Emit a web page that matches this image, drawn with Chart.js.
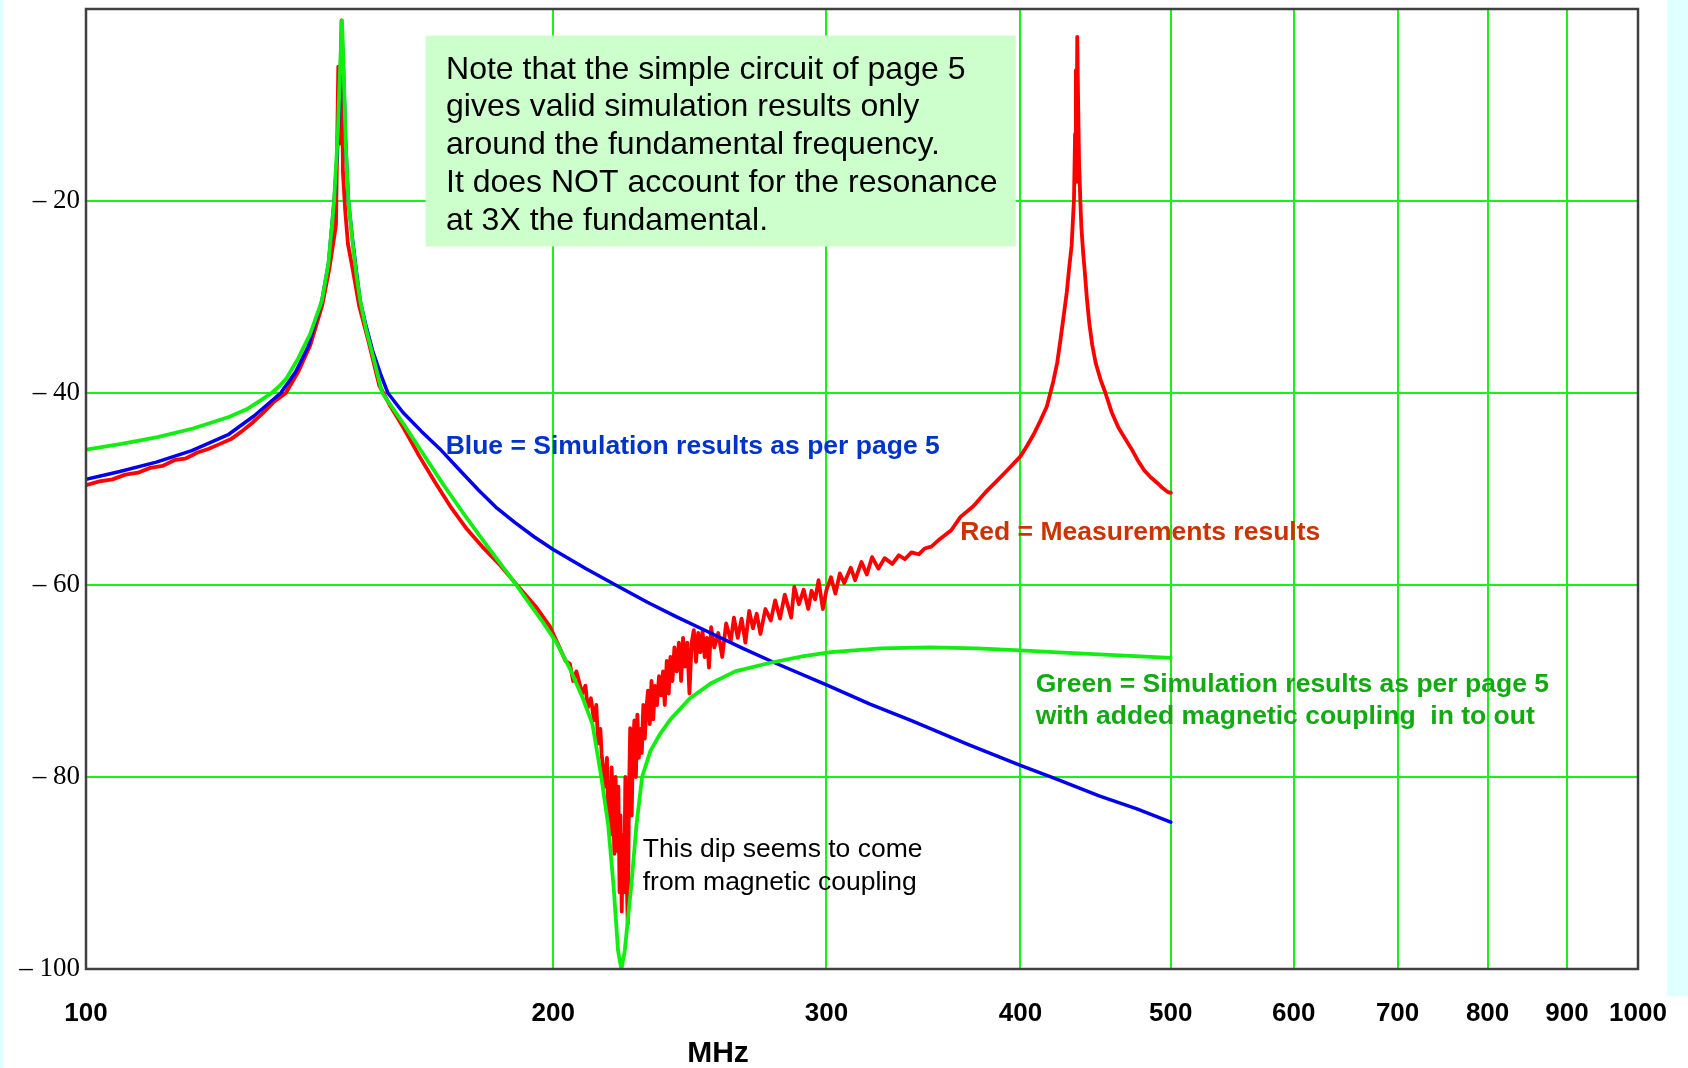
<!DOCTYPE html>
<html>
<head>
<meta charset="utf-8">
<title>Filter response 100 - 1000 MHz</title>
<script src="https://cdn.jsdelivr.net/npm/chart.js@4.4.1/dist/chart.umd.min.js"></script>
<style>
  html, body { margin: 0; padding: 0; background: #ffffff; }
  #responseChart { display: block; }
</style>
</head>
<body>
<canvas id="responseChart" width="1688" height="1068"></canvas>
<script>
// Axis ticks
const xTicks = [100, 200, 300, 400, 500, 600, 700, 800, 900, 1000];
const yTicks = [-100, -80, -60, -40, -20, 0];

// Blue: simulation of the simple circuit (MHz / dB)
const freqBlue = [100, 105, 111, 117, 123.6, 128.3, 133.5, 136.5, 139, 141.9, 143.3, 144.5, 145.3, 145.9, 146.2,
  146.6, 147.0, 147.6, 148.5, 149.4, 150.2, 151.5, 153, 154.8, 156.5, 160, 164.5, 169, 174, 179, 184, 189,
  194.5, 200, 210, 220, 230, 240, 252.6, 265, 277.8, 300, 320, 340, 370, 400, 421.7, 450, 475, 500];
const dbBlue = [-49.0, -48.2, -47.2, -46.0, -44.3, -42.4, -40.0, -37.8, -35.2, -30.4, -26.5, -20.0, -14.0, -7.0, -2.5,
  -7.5, -14.0, -20.0, -24.0, -27.5, -30.4, -33.0, -35.6, -38.0, -40.0, -42.0, -44.0, -45.8, -48.0, -50.1, -52.0, -53.5,
  -55.0, -56.3, -58.3, -60.1, -61.8, -63.3, -65.0, -66.6, -68.1, -70.4, -72.4, -74.1, -76.6, -78.8, -80.2, -82.0, -83.3, -84.7];

// Green: simulation with magnetic coupling in to out
const freqGreen = [100, 105.4, 111.2, 117.2, 123.6, 126.9, 129.5, 131.7, 133.2, 134.6, 137, 139.5, 141.9, 143.3, 144.5,
  145.3, 145.8, 146.2, 146.6, 147.0, 147.6, 148.5, 149.4, 150.2, 151.5, 153, 155.2, 160, 165, 170, 175, 179, 184,
  189, 193, 197, 201, 205, 209, 212, 214.8, 217, 218.7, 220.2, 221.3, 222.4, 224.6, 226.3, 228.2, 231, 234.4, 238,
  245, 253, 262, 276, 290, 302, 325, 350, 375, 400, 420, 460, 500];
const dbGreen = [-45.9, -45.3, -44.6, -43.7, -42.5, -41.7, -40.8, -40.0, -39.3, -38.5, -36.4, -33.8, -30.4, -26.5, -20.0,
  -13.0, -6.0, -1.2, -7.0, -14.0, -20.0, -24.3, -27.8, -30.4, -33.3, -36.0, -40.0, -43.1, -46.4, -49.6, -52.5, -54.7, -57.3,
  -59.8, -61.9, -63.9, -66.0, -68.7, -71.8, -74.5, -80.0, -85.0, -91.2, -98.1, -100, -98.1, -91.2, -85.0, -80.0, -77.3, -75.5, -74.0,
  -71.8, -70.2, -69.0, -68.1, -67.4, -67.0, -66.6, -66.5, -66.6, -66.8, -67.0, -67.3, -67.6];

// Red: measured response
const freqRed = [100, 102, 104, 106, 108, 110, 112, 114, 116, 118, 120, 122, 124, 126, 128, 130, 132, 134.5, 137, 139.5,
  142, 143.5, 144.9, 145.4, 145.7, 146.1, 146.4, 146.9, 147.5, 148.5, 150, 152, 154.5, 157, 160, 164, 168, 172, 176,
  180, 185, 190, 195, 199, 203.7, 205, 206, 207, 208.8, 209.8, 210.5, 211.5, 212.5, 213.2, 213.8, 214.5, 214.9, 215.5,
  216.1, 216.6, 217, 217.4, 217.7, 218.1, 218.5, 219, 219.4, 219.9, 220.3, 220.7, 221, 221.4, 221.8, 222.2, 222.6, 223,
  223.4, 223.8, 224.2, 224.7, 225.1, 225.6, 226.1, 226.6, 227.1, 227.6, 228.1, 228.6, 229.1, 229.6, 230.2, 230.8, 231.4,
  232, 232.6, 233.3, 234, 234.7, 235.4, 236, 236.7, 237.4, 238, 238.7, 239.4, 240.2, 241, 241.8, 242.5, 243.2, 244,
  244.8, 245.6, 246.4, 247.2, 248, 248.8, 249.6, 250.4, 251.2, 252, 252.8, 254, 255.5, 257, 258.5, 260.3,
  261.5, 263, 264.5, 266, 267.5, 269, 270.5, 272, 274, 276.2, 278, 280, 282, 284.7, 286, 288, 290, 292, 293.4, 295,
  296.5, 298.4, 300, 302, 304, 306, 308, 311, 313, 316, 318.5, 321, 324, 327, 330.8, 334, 337, 340.3, 344, 347, 350.5,
  355, 361, 366, 373, 380, 386, 392, 400, 404, 408, 412, 416, 420, 422.5, 424.3, 426.5, 428.5, 430, 431.6, 433.1,
  433.8, 434.3, 434.7, 435.2, 435.8, 436.4, 437.2, 437.9, 439, 440, 441.5, 443.1, 445, 447.3, 450.5, 453.8, 458,
  462.6, 467, 471.6, 476, 480.9, 485.5, 490.3, 494, 497.6, 500];
const dbRed = [-49.6, -49.2, -49.0, -48.5, -48.3, -47.8, -47.6, -47.0, -46.8, -46.2, -45.8, -45.3, -44.8, -44.0, -43.1, -42.1, -41.0, -40.0, -37.8, -35.0,
  -30.8, -27.0, -22.5, -6.0, -14.0, -1.2, -17.0, -21.0, -24.5, -27.0, -31.0, -34.5, -39.2, -41.3, -43.5, -46.6, -49.4, -52.0, -54.2,
  -56.0, -58.0, -60.2, -62.3, -64.3, -67.9, -68.2, -70.0, -69.0, -71.3, -70.5, -72.8, -71.8, -74.1, -72.5, -76.5, -75.0, -77.6, -79.5,
  -81.0, -78.0, -84.5, -80.5, -86.0, -79.0, -82.0, -88.0, -80.0, -87.7, -81.0, -92.0, -84.0, -94.0, -86.0, -92.0, -80.0, -90.0,
  -95.3, -82.0, -74.9, -84.0, -77.0, -74.1, -80.0, -73.5, -78.0, -75.0, -77.5, -72.5, -76.0, -73.1, -71.0, -74.5, -70.0,
  -74.0, -70.5, -72.5, -69.5, -71.5, -69.0, -72.5, -67.9, -71.3, -67.5, -70.0, -66.5, -69.0, -66.0, -70.0, -65.5, -68.5, -66.0,
  -71.3, -66.0, -64.7, -68.0, -65.0, -67.0, -64.8, -67.5, -65.5, -68.6, -64.4, -66.5, -65.0, -67.5, -64.0, -65.8,
  -63.4, -65.5, -63.5, -66.0, -62.7, -64.5, -63.0, -65.1, -62.5, -63.7, -61.6, -63.5, -61.0, -63.4, -60.2, -62.0, -60.5, -62.5, -60.6, -61.5,
  -59.5, -62.5, -60.5, -59.2, -60.9, -58.8, -59.8, -58.2, -59.5, -57.6, -58.9, -57.1, -58.3, -57.2, -57.8, -56.9, -57.3, -56.6, -56.8, -56.2, -56.0,
  -55.2, -54.3, -52.9, -51.8, -50.3, -49.2, -48.1, -46.6, -45.5, -44.3, -42.9, -41.4, -38.8, -36.8, -34.7, -32.0, -29.5, -27.0, -24.6, -19.8,
  -13.0, -6.4, -18.0, -2.9, -10.0, -16.1, -20.0, -22.8, -25.3, -27.2, -30.2, -32.8, -35.0, -36.9, -38.6, -40.0, -42.0,
  -43.6, -44.7, -45.8, -47.0, -48.1, -48.8, -49.4, -49.9, -50.3, -50.4];

const sans = '"Liberation Sans", Arial, sans-serif';

function toPoints(freqs, dbs) {
  return freqs.map((f, i) => ({ x: f, y: dbs[i] }));
}

// White page with the light cyan edges
const pagePlugin = {
  id: 'page',
  beforeDraw(chart) {
    const c = chart.ctx;
    c.save();
    c.fillStyle = '#ffffff';
    c.fillRect(0, 0, chart.width, chart.height);
    c.fillStyle = '#e0ffff';
    c.fillRect(0, 0, 3.5, chart.height);
    c.fillRect(1667, 0, chart.width - 1667, 996);
    c.restore();
  }
};

// Frame, note box and text annotations
const notesPlugin = {
  id: 'notes',
  afterDatasetsDraw(chart) {
    const c = chart.ctx;
    const xs = chart.scales.x;
    const ys = chart.scales.y;
    const area = chart.chartArea;
    const px = f => xs.getPixelForValue(f);
    const py = db => ys.getPixelForValue(db);

    c.save();

    // note box
    c.fillStyle = '#ccffcc';
    c.fillRect(px(165.5), py(-2.76), px(397.2) - px(165.5), py(-24.74) - py(-2.76));
    c.fillStyle = '#000000';
    c.font = '32px ' + sans;
    c.textBaseline = 'middle';
    c.textAlign = 'left';
    const noteLines = [
      'Note that the simple circuit of page 5',
      'gives valid simulation results only',
      'around the fundamental frequency.',
      'It does NOT account for the resonance',
      'at 3X the fundamental.'
    ];
    noteLines.forEach((t, i) => c.fillText(t, px(170.6), py(-6.33) + i * 37.9));

    // curve labels
    c.font = 'bold 26.5px ' + sans;
    c.fillStyle = '#0033cc';
    c.fillText('Blue = Simulation results as per page 5', px(170.5), py(-45.6));
    c.fillStyle = '#cc3300';
    c.fillText('Red = Measurements results', px(365.8), py(-54.5));
    c.fillStyle = '#11aa11';
    c.fillText('Green = Simulation results as per page 5', px(409.2), py(-70.4));
    c.fillText('with added magnetic coupling  in to out', px(409.2), py(-70.4) + 32.3);

    c.font = '26.5px ' + sans;
    c.fillStyle = '#000000';
    c.fillText('This dip seems to come', px(228.4), py(-87.6));
    c.fillText('from magnetic coupling', px(228.4), py(-87.6) + 32.3);

    // axis title
    c.font = 'bold 30px ' + sans;
    c.textAlign = 'center';
    c.fillText('MHz', px(255.4), area.bottom + 85);

    // plot frame
    c.strokeStyle = '#404040';
    c.lineWidth = 2.5;
    c.strokeRect(area.left, area.top, area.right - area.left, area.bottom - area.top);
    c.restore();
  }
};

const gridGreen = 'rgb(25, 242, 25)';

new Chart(document.getElementById('responseChart').getContext('2d'), {
  type: 'line',
  data: {
    datasets: [
      { label: 'Green', data: toPoints(freqGreen, dbGreen), borderColor: '#12ee12', borderWidth: 3.8 },
      { label: 'Blue', data: toPoints(freqBlue, dbBlue), borderColor: '#0000ee', borderWidth: 3.5 },
      { label: 'Red', data: toPoints(freqRed, dbRed), borderColor: '#ff0000', borderWidth: 3.8 }
    ]
  },
  options: {
    responsive: false,
    animation: false,
    devicePixelRatio: 1,
    elements: {
      point: { radius: 0 },
      line: { tension: 0, borderJoinStyle: 'round', borderCapStyle: 'round', fill: false }
    },
    layout: { padding: { top: 9, right: 50, left: 0, bottom: 0 } },
    plugins: {
      legend: { display: false },
      tooltip: { enabled: false }
    },
    scales: {
      x: {
        type: 'logarithmic',
        min: 100,
        max: 1000,
        afterBuildTicks: scale => { scale.ticks = xTicks.map(v => ({ value: v })); },
        afterFit: scale => {
          scale.height = 99;
          scale.paddingLeft = 0;
          scale.paddingRight = 0;
        },
        border: { display: false },
        grid: { color: gridGreen, lineWidth: 2, drawTicks: false },
        ticks: {
          autoSkip: false,
          maxRotation: 0,
          padding: 29,
          color: '#000000',
          font: { family: sans, size: 26, weight: 'bold' },
          callback: v => String(v)
        }
      },
      y: {
        type: 'linear',
        min: -100,
        max: 0,
        afterBuildTicks: scale => { scale.ticks = yTicks.map(v => ({ value: v })); },
        afterFit: scale => {
          scale.width = 86;
          scale.paddingTop = 0;
          scale.paddingBottom = 0;
        },
        border: { display: false },
        grid: { color: gridGreen, lineWidth: 2, drawTicks: false },
        ticks: {
          padding: 6,
          color: '#000000',
          font: { family: '"Liberation Serif", "Times New Roman", serif', size: 27 },
          callback: v => (v === 0 ? '' : '\u2013 ' + Math.abs(v))
        }
      }
    }
  },
  plugins: [pagePlugin, notesPlugin]
});
</script>
</body>
</html>
